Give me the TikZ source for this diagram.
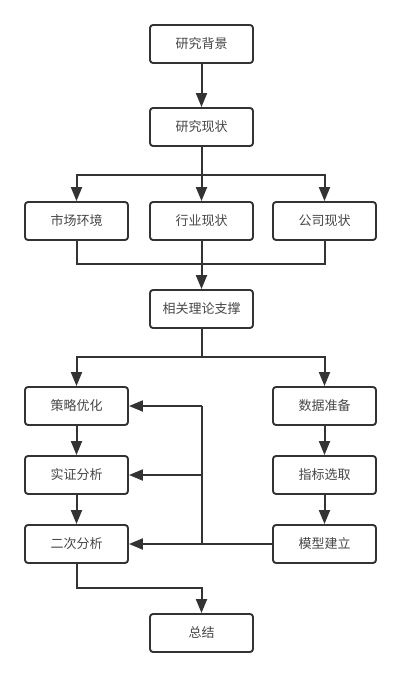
\documentclass[tikz,border=0pt]{standalone}
\usepackage{fontspec}
\newfontfamily\cjk{Noto Sans CJK SC}
\usepackage{xcolor}
\usepackage{tikz}
\usetikzlibrary{arrows.meta, positioning, calc}

\definecolor{lineclr}{HTML}{333333}

\begin{document}
\begin{tikzpicture}[
  x=1pt, y=-1pt,
  every node/.style={font=\cjk\fontsize{13}{15}\selectfont, text=lineclr!90},
  box/.style={draw=lineclr, line width=1.9pt, rounded corners=3pt, fill=white,
              minimum width=103pt, minimum height=38pt, inner sep=0pt},
  flow/.style={draw=lineclr, line width=2pt},
  arr/.style={flow, -{Triangle[length=14pt, width=11pt]}}
]
\useasboundingbox (0,0) rectangle (401,678);

%% main column
\node[box] (bg)   at (201.5, 44)  {研究背景};
\node[box] (xz)   at (201.5, 127) {研究现状};
%% three branches
\node[box] (sc)   at (76.5, 221)  {市场环境};
\node[box] (hy)   at (201.5, 221) {行业现状};
\node[box] (gs)   at (324.5, 221) {公司现状};
\node[box] (ll)   at (201.5, 309) {相关理论支撑};
%% left column
\node[box] (cl)   at (76.5, 406)  {策略优化};
\node[box] (sz)   at (76.5, 475)  {实证分析};
\node[box] (ec)   at (76.5, 544)  {二次分析};
%% right column
\node[box] (sj)   at (324.5, 406) {数据准备};
\node[box] (zb)   at (324.5, 475) {指标选取};
\node[box] (mx)   at (324.5, 544) {模型建立};
\node[box] (zj)   at (201.5, 633) {总结};

%% junction points
\coordinate (s1) at (201.5, 175);
\coordinate (j1) at (201.5, 264);
\coordinate (s2) at (201.5, 357);
\coordinate (fa) at (201.5, 406);
\coordinate (fs) at (201.5, 475);
\coordinate (fb) at (201.5, 544);
\coordinate (j2) at (201.5, 588);

\draw[arr] (bg) -- (xz);

%% split to three
\draw[flow] (xz) -- (s1);
\foreach \n in {sc, hy, gs}
  \draw[arr] (s1) -| (\n);

%% merge
\foreach \n in {sc, hy, gs}
  \draw[flow] (\n) |- (j1);
\draw[arr] (j1) -- (ll);

%% split to two columns
\draw[flow] (ll) -- (s2);
\foreach \n in {cl, sj}
  \draw[arr] (s2) -| (\n);

%% column chains
\foreach \a/\b in {cl/sz, sz/ec, sj/zb, zb/mx}
  \draw[arr] (\a) -- (\b);

%% feedback from model
\draw[arr] (mx) -- (ec);
\draw[flow] (fb) -- (fa);
\draw[arr] (fa) -- (cl);
\draw[arr] (fs) -- (sz);

%% to summary
\draw[arr] (ec) |- (j2) -- (zj);
\end{tikzpicture}
\end{document}
